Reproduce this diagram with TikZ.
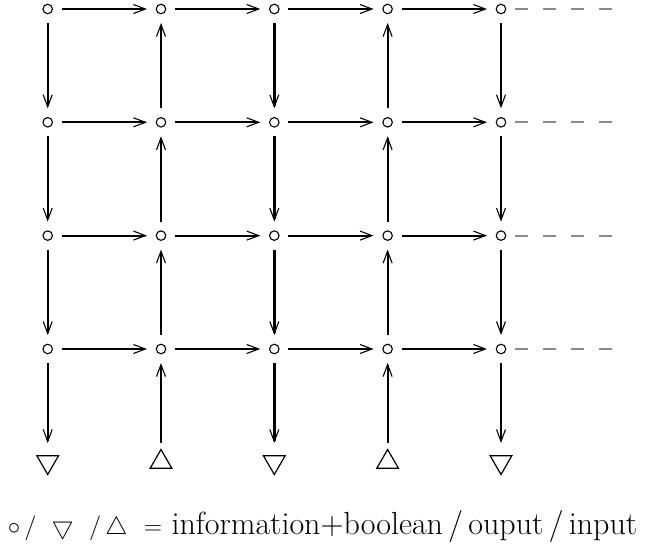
\documentclass[tikz,border=0pt]{standalone}
\usetikzlibrary{arrows.meta,shapes.geometric}
\definecolor{dashgray}{HTML}{8A8A8A}
\begin{document}
\begin{tikzpicture}[x=1pt,y=-1pt,
  dot/.style={circle,draw,minimum size=9.5pt,inner sep=0pt,line width=1.1pt},
  outtri/.style={regular polygon,regular polygon sides=3,shape border rotate=180,draw,minimum size=25pt,inner sep=0pt,line width=1.2pt},
  intri/.style={regular polygon,regular polygon sides=3,draw,minimum size=25pt,inner sep=0pt,line width=1.2pt},
  barb/.tip={Straight Barb[length=12pt,width=9pt,line width=1.1pt 0]},
  link/.style={-barb,line width=1.9pt,shorten <=14pt,shorten >=14pt},
  heavylink/.style={link,line width=2.8pt},
  trilink/.style={-barb,line width=1.9pt,shorten <=14pt,shorten >=19pt},
  heavytrilink/.style={trilink,line width=2.8pt},
  tail/.style={dashgray,line width=1.9pt,dash pattern=on 13pt off 15pt,shorten <=14pt},
  caption/.style={font=\fontsize{32}{38}\selectfont,inner sep=0pt,anchor=base}]
\useasboundingbox (0,0) rectangle (645,555);
% nodes
\foreach \r/\y in {1/9,2/122.3,3/235.6,4/349}{
  \foreach \c/\x in {1/47.7,2/161,3/274.3,4/387.6,5/501}{
    \node[dot] (c\r\c) at (\x,\y) {};
  }
  \coordinate (e\r) at (614,\y);
}
\node[outtri] (t1) at (47.7,462) {};
\node[intri]  (t2) at (161,462) {};
\node[outtri] (t3) at (274.3,462) {};
\node[intri]  (t4) at (387.6,462) {};
\node[outtri] (t5) at (501,462) {};
% horizontal links
\foreach \r/\s in {1/heavylink,2/link,3/link,4/heavylink}{
  \draw[\s] (c\r1.center) -- (c\r2.center);
  \draw[\s] (c\r2.center) -- (c\r3.center);
  \draw[\s] (c\r3.center) -- (c\r4.center);
  \draw[\s] (c\r4.center) -- (c\r5.center);
  \draw[tail] (c\r5.center) -- (e\r);
}
% vertical links: columns 1,3,5 downward; 2,4 upward
\foreach \c/\s in {1/link,3/heavylink,5/link}{
  \draw[\s] (c1\c.center) -- (c2\c.center);
  \draw[\s] (c2\c.center) -- (c3\c.center);
  \draw[\s] (c3\c.center) -- (c4\c.center);
}
\draw[trilink] (c41.center) -- (t1.center);
\draw[heavytrilink] (c43.center) -- (t3.center);
\draw[trilink] (c45.center) -- (t5.center);
\foreach \c in {2,4}{
  \draw[link] (c2\c.center) -- (c1\c.center);
  \draw[link] (c3\c.center) -- (c2\c.center);
  \draw[link] (c4\c.center) -- (c3\c.center);
  \draw[-barb,line width=1.9pt,shorten <=19pt,shorten >=14pt] (t\c.center) -- (c4\c.center);
}
% caption
\node[caption] (cap) at (322.5,534) {$\circ\,/\ \bigtriangledown\ /\,\bigtriangleup\ =$ information+boolean\,/\,ouput\,/\,input};
\end{tikzpicture}
\end{document}
